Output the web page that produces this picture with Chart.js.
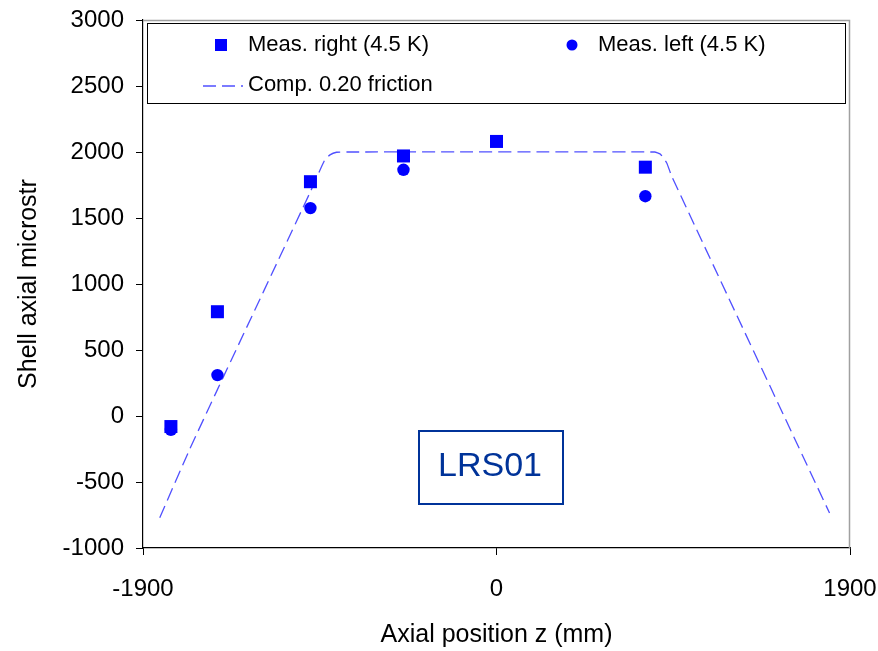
<!DOCTYPE html>
<html>
<head>
<meta charset="utf-8">
<script src="https://cdn.jsdelivr.net/npm/chart.js@4.4.1/dist/chart.umd.min.js"></script>
<style>
  html, body { margin: 0; padding: 0; background: #fff; }
  #wrap { width: 878px; height: 651px; }
</style>
</head>
<body>
<div id="wrap"><canvas id="chart" width="878" height="651"></canvas></div>
<script>
// Mesures (positions en mm, micro-déformations)
const measX = [-1750, -1500, -1000, -500, 0, 800];
const measRight = [-80, 790, 1775, 1970, 2080, 1885];
const measLeftX = [-1750, -1500, -1000, -500, 800];
const measLeft = [-105, 310, 1575, 1865, 1665];

// Courbe calculée (friction 0.20)
const compX = [-1810, -1650, -1500, -1000, -925, -895, -860, -800, 850, 880, 915, 942, 1790];
const compY = [-770, -255, 200, 1700, 1935, 1978, 1998, 2000, 2000, 1985, 1917, 1815, -735];

const xTicks = [-1900, 0, 1900];
const yMin = -1000, yMax = 3000, yStep = 500;

const fontName = "'Liberation Sans', Arial, sans-serif";
const blue = '#0000ff';
const dashBlue = 'rgb(80,80,255)';

function toPoints(xs, ys) {
    return xs.map((x, i) => ({ x: x, y: ys[i] }));
}

// Légende, cadre du graphique et étiquette LRS01 dessinés à la main
const extras = {
    id: 'extras',
    afterDraw(chart) {
        const ctx = chart.ctx;
        const a = chart.chartArea;
        ctx.save();

        // bords haut et droite en gris
        ctx.strokeStyle = '#a0a0a0';
        ctx.lineWidth = 1.5;
        ctx.beginPath();
        ctx.moveTo(a.left, a.top + 0.5);
        ctx.lineTo(a.right - 0.5, a.top + 0.5);
        ctx.lineTo(a.right - 0.5, a.bottom);
        ctx.stroke();

        // boîte de légende
        const lx = a.left + 4, ly = a.top + 3, lw = a.right - a.left - 9, lh = 80;
        ctx.fillStyle = '#fff';
        ctx.fillRect(lx, ly, lw, lh);
        ctx.strokeStyle = '#000';
        ctx.lineWidth = 1;
        ctx.strokeRect(lx + 0.5, ly + 0.5, lw, lh);

        ctx.font = '22px ' + fontName;
        ctx.textBaseline = 'middle';
        ctx.textAlign = 'left';

        // carré
        ctx.fillStyle = blue;
        ctx.fillRect(215, 39, 12, 12);
        ctx.fillStyle = '#000';
        ctx.fillText(chart.data.datasets[0].label, 248, 45);

        // rond
        ctx.fillStyle = blue;
        ctx.beginPath();
        ctx.arc(572, 45, 5.5, 0, Math.PI * 2);
        ctx.fill();
        ctx.fillStyle = '#000';
        ctx.fillText(chart.data.datasets[1].label, 598, 45);

        // tirets
        ctx.strokeStyle = dashBlue;
        ctx.lineWidth = 1.3;
        ctx.setLineDash([13, 6]);
        ctx.beginPath();
        ctx.moveTo(203, 86);
        ctx.lineTo(243, 86);
        ctx.stroke();
        ctx.setLineDash([]);
        ctx.fillStyle = '#000';
        ctx.fillText(chart.data.datasets[2].label, 248, 85);

        // étiquette LRS01
        ctx.strokeStyle = '#003399';
        ctx.lineWidth = 2;
        ctx.strokeRect(419, 431, 144, 73);
        ctx.fillStyle = '#003399';
        ctx.font = '34px ' + fontName;
        ctx.textAlign = 'center';
        ctx.fillText('LRS01', 490, 467);

        ctx.restore();
    }
};

const ctx = document.getElementById('chart').getContext('2d');
const chart = new Chart(ctx, {
    type: 'scatter',
    data: {
        datasets: [
            {
                label: 'Meas. right (4.5 K)',
                data: toPoints(measX, measRight),
                pointStyle: 'rect',
                pointRadius: 9.2,
                backgroundColor: blue,
                borderColor: blue,
                borderWidth: 0,
                order: 2
            },
            {
                label: 'Meas. left (4.5 K)',
                data: toPoints(measLeftX, measLeft),
                pointStyle: 'circle',
                pointRadius: 6.2,
                backgroundColor: blue,
                borderColor: blue,
                borderWidth: 0,
                order: 1
            },
            {
                label: 'Comp. 0.20 friction',
                data: toPoints(compX, compY),
                showLine: true,
                pointRadius: 0,
                borderColor: dashBlue,
                borderWidth: 1.3,
                borderDash: [13, 6],
                tension: 0.15,
                order: 3
            }
        ]
    },
    options: {
        responsive: false,
        animation: false,
        layout: { padding: { top: 20, right: 28, left: 0, bottom: 0 } },
        plugins: {
            legend: { display: false },
            tooltip: { enabled: false }
        },
        scales: {
            x: {
                type: 'linear',
                min: xTicks[0],
                max: xTicks[xTicks.length - 1],
                afterBuildTicks: (scale) => { scale.ticks = xTicks.map(v => ({ value: v })); },
                afterFit: (scale) => {
                    scale.height = 103;
                    scale.paddingLeft = 0;
                    scale.paddingRight = 0;
                },
                grid: { drawOnChartArea: false, tickLength: 7, color: '#000', lineWidth: 1 },
                border: { color: '#000', width: 1.2 },
                ticks: {
                    color: '#000',
                    font: { family: fontName, size: 24 },
                    padding: 20,
                    maxRotation: 0,
                    callback: (v) => String(v)
                },
                title: {
                    display: true,
                    text: 'Axial position z (mm)',
                    color: '#000',
                    font: { family: fontName, size: 25 },
                    padding: { top: 4, bottom: 1 }
                }
            },
            y: {
                type: 'linear',
                min: yMin,
                max: yMax,
                afterFit: (scale) => {
                    scale.width = 143;
                    scale.paddingTop = 0;
                    scale.paddingBottom = 0;
                },
                grid: { drawOnChartArea: false, tickLength: 7, color: '#000', lineWidth: 1 },
                border: { color: '#000', width: 1.2 },
                ticks: {
                    stepSize: yStep,
                    color: '#000',
                    font: { family: fontName, size: 24 },
                    padding: 12,
                    callback: (v) => String(v)
                },
                title: {
                    display: true,
                    text: 'Shell axial microstr',
                    color: '#000',
                    font: { family: fontName, size: 25 },
                    padding: { top: 14, bottom: 0 }
                }
            }
        }
    },
    plugins: [extras]
});
</script>
</body>
</html>
